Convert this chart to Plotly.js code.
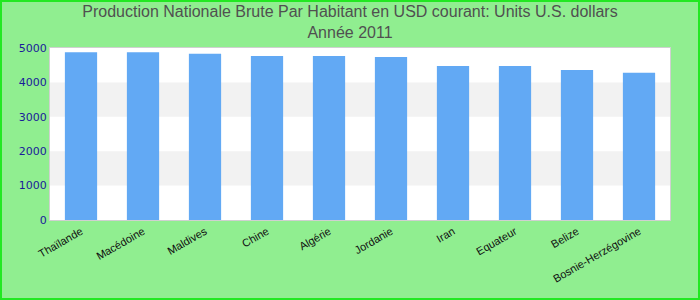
<!DOCTYPE html>
<html><head><meta charset="utf-8">
<script src="https://cdn.plot.ly/plotly-3.0.1.min.js"></script>
<style>
body{margin:0;padding:0;}
#wrap{position:relative;width:700px;height:300px;}
#chart{width:700px;height:300px;}
#frame{position:absolute;left:0;top:0;width:700px;height:300px;box-sizing:border-box;border:2px solid #22e822;pointer-events:none;}
</style>
</head><body>
<div id="wrap"><div id="chart"></div><div id="frame"></div></div>
<script>
var countries = ["Thaïlande","Macédoine","Maldives","Chine","Algérie","Jordanie","Iran","Equateur","Belize","Bosnie-Herzégovine"];
var values = [4880, 4880, 4830, 4770, 4770, 4740, 4480, 4480, 4360, 4280];
var yTicks = [0, 1000, 2000, 3000, 4000, 5000];
var bands = [[1000, 2000], [3000, 4000]];

var shapes = bands.map(function(b){
  return {type:'rect', xref:'paper', yref:'y', x0:0, x1:1, y0:b[0], y1:b[1],
          fillcolor:'#f2f2f2', line:{width:0}, layer:'below'};
});

var data = [{
  type:'bar', x:countries, y:values,
  marker:{color:'#62a9f4'}, hoverinfo:'x+y'
}];

var layout = {
  width:700, height:300,
  paper_bgcolor:'#90ee90', plot_bgcolor:'#ffffff',
  margin:{l:50, r:30, t:48, b:80},
  title:{text:'Production Nationale Brute Par Habitant en USD courant: Units U.S. dollars<br>Année 2011',
         font:{family:'Liberation Sans, Arial, sans-serif', size:16, color:'#505050'},
         x:0.5, xanchor:'center', yref:'container', y:0.942, yanchor:'middle'},
  bargap:0.48,
  showlegend:false,
  shapes:shapes,
  xaxis:{type:'category', tickangle:-30, tickfont:{family:'Liberation Sans, Arial, sans-serif', size:11, color:'#111111'},
         showline:true, linecolor:'#d0d0d0', mirror:true, showgrid:false, ticks:'', fixedrange:true},
  yaxis:{range:[0,5000], tickvals:yTicks, ticktext:yTicks.map(String),
         tickfont:{family:'DejaVu Sans, sans-serif', size:11, color:'#1a1a9a'},
         showline:true, linecolor:'#d0d0d0', mirror:true, showgrid:false, zeroline:false, ticks:'', fixedrange:true}
};
Plotly.newPlot('chart', data, layout, {displayModeBar:false, staticPlot:true});
</script>
</body></html>
